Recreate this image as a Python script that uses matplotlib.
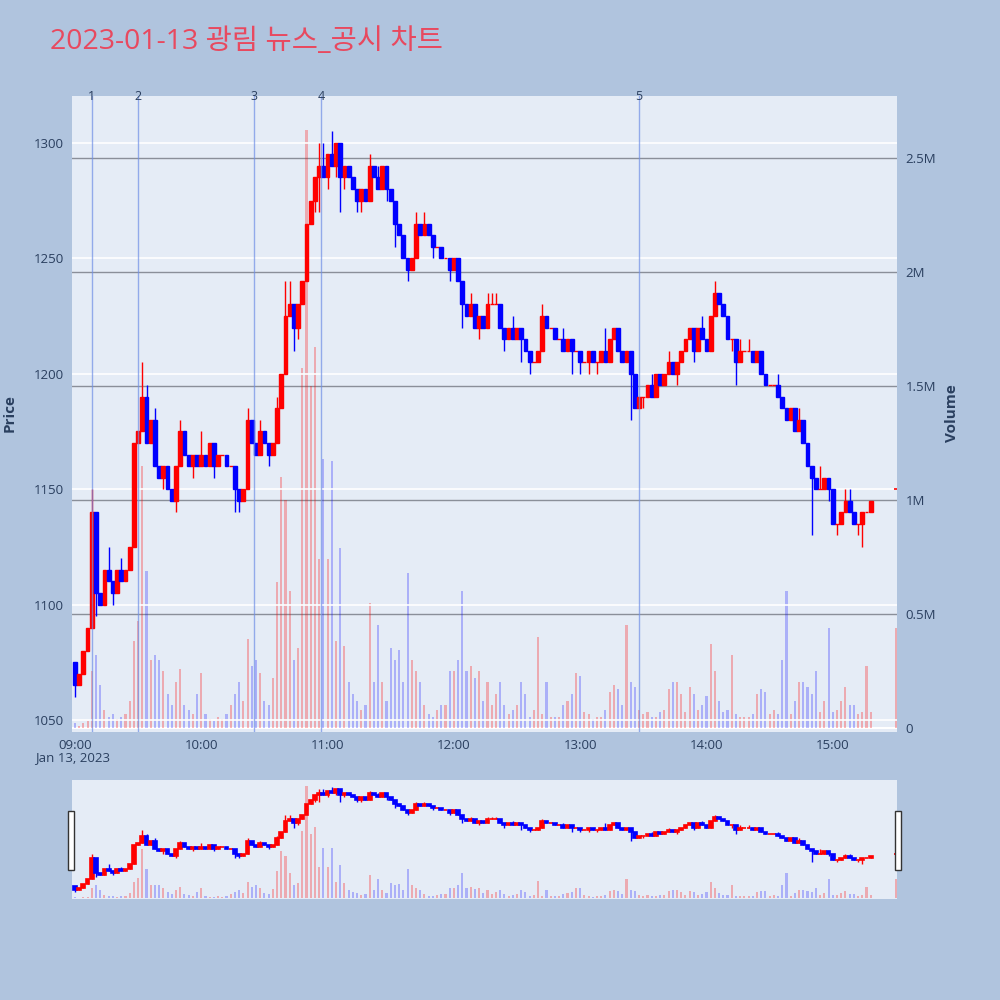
import numpy as np
import matplotlib.pyplot as plt
from matplotlib.patches import Rectangle

plt.rcParams['font.family'] = ['Open Sans', 'Noto Sans CJK KR', 'DejaVu Sans']

# 2분봉 종가 (09:00 ~ 15:18)
first_open = 1075
closes = [
    1065, 1070, 1080, 1090, 1140, 1105, 1100, 1115, 1110, 1105,
    1115, 1110, 1115, 1125, 1170, 1175, 1190, 1170, 1180, 1160,
    1155, 1160, 1150, 1145, 1160, 1175, 1165, 1160, 1165, 1160,
    1165, 1160, 1170, 1160, 1165, 1165, 1160, 1160, 1150, 1145,
    1150, 1180, 1170, 1165, 1175, 1170, 1165, 1170, 1185, 1200,
    1225, 1230, 1220, 1230, 1240, 1265, 1275, 1285, 1290, 1285,
    1295, 1290, 1300, 1285, 1290, 1285, 1280, 1275, 1280, 1275,
    1290, 1285, 1280, 1290, 1280, 1275, 1265, 1260, 1250, 1245,
    1250, 1265, 1260, 1265, 1260, 1255, 1255, 1250, 1250, 1245,
    1250, 1240, 1230, 1225, 1230, 1220, 1225, 1220, 1230, 1230,
    1230, 1220, 1215, 1220, 1215, 1220, 1215, 1210, 1205, 1205,
    1210, 1225, 1220, 1220, 1215, 1215, 1210, 1215, 1210, 1210,
    1205, 1205, 1210, 1205, 1205, 1210, 1205, 1215, 1220, 1210,
    1205, 1210, 1200, 1185, 1190, 1190, 1195, 1190, 1200, 1195,
    1200, 1205, 1200, 1205, 1210, 1215, 1220, 1210, 1220, 1215,
    1210, 1225, 1235, 1230, 1225, 1215, 1215, 1205, 1210, 1210,
    1210, 1205, 1210, 1200, 1195, 1195, 1195, 1190, 1185, 1180,
    1185, 1175, 1180, 1170, 1160, 1155, 1150, 1150, 1155, 1150,
    1135, 1135, 1140, 1145, 1140, 1135, 1135, 1140, 1140, 1145,
]
# 거래량 (백만주)
volumes = [
    0.02, 0.01, 0.02, 0.03, 0.25, 0.32, 0.19, 0.08, 0.05, 0.06,
    0.04, 0.05, 0.06, 0.12, 0.38, 0.47, 1.15, 0.69, 0.30, 0.32,
    0.30, 0.25, 0.15, 0.10, 0.20, 0.26, 0.10, 0.08, 0.06, 0.15,
    0.24, 0.06, 0.04, 0.03, 0.05, 0.04, 0.06, 0.10, 0.15, 0.20,
    0.12, 0.39, 0.27, 0.30, 0.24, 0.12, 0.10, 0.22, 0.64, 1.10,
    1.00, 0.60, 0.30, 0.35, 1.58, 2.62, 1.50, 1.67, 0.74, 1.18,
    0.74, 1.17, 0.38, 0.79, 0.36, 0.20, 0.15, 0.12, 0.08, 0.10,
    0.55, 0.20, 0.45, 0.20, 0.12, 0.35, 0.30, 0.34, 0.20, 0.68,
    0.30, 0.25, 0.20, 0.10, 0.06, 0.05, 0.08, 0.10, 0.10, 0.25,
    0.25, 0.30, 0.60, 0.25, 0.27, 0.22, 0.25, 0.12, 0.20, 0.10,
    0.15, 0.20, 0.10, 0.06, 0.08, 0.10, 0.20, 0.15, 0.05, 0.08,
    0.40, 0.06, 0.20, 0.05, 0.05, 0.05, 0.10, 0.12, 0.15, 0.24,
    0.23, 0.07, 0.06, 0.04, 0.05, 0.05, 0.08, 0.16, 0.19, 0.17,
    0.10, 0.45, 0.20, 0.18, 0.08, 0.06, 0.07, 0.05, 0.05, 0.07,
    0.08, 0.17, 0.20, 0.20, 0.15, 0.07, 0.18, 0.15, 0.08, 0.10,
    0.14, 0.37, 0.25, 0.12, 0.07, 0.08, 0.32, 0.06, 0.05, 0.05,
    0.05, 0.06, 0.15, 0.17, 0.16, 0.06, 0.08, 0.06, 0.30, 0.60,
    0.06, 0.12, 0.20, 0.20, 0.18, 0.15, 0.25, 0.07, 0.12, 0.44,
    0.07, 0.08, 0.12, 0.18, 0.10, 0.10, 0.06, 0.07, 0.27, 0.07,
]
wick_high = {0: 1075, 4: 1150, 8: 1125, 11: 1120, 16: 1205, 17: 1195, 19: 1185,
             25: 1180, 26: 1175, 30: 1175, 41: 1185, 44: 1180, 48: 1190,
             50: 1240, 51: 1240, 58: 1300, 59: 1300, 61: 1305, 70: 1295,
             72: 1290, 81: 1270, 83: 1270, 94: 1235, 98: 1235, 99: 1235,
             100: 1235, 104: 1225, 111: 1230, 116: 1220, 126: 1220, 137: 1200,
             141: 1210, 149: 1225, 152: 1240, 158: 1215, 160: 1215, 167: 1200,
             172: 1185, 177: 1160, 183: 1150, 184: 1150, 189: 1145}
wick_low = {0: 1060, 5: 1095, 9: 1100, 21: 1150, 24: 1140, 28: 1155, 33: 1155,
            38: 1140, 39: 1140, 46: 1160, 52: 1210, 53: 1215, 55: 1250,
            56: 1265, 57: 1270, 58: 1270, 60: 1280, 62: 1285, 63: 1270,
            64: 1280, 67: 1270, 68: 1270, 74: 1275, 76: 1255, 79: 1240,
            85: 1250, 89: 1240, 92: 1220, 96: 1215, 102: 1210, 106: 1205,
            108: 1200, 118: 1200, 120: 1200, 122: 1200, 124: 1200, 132: 1180,
            135: 1185, 143: 1195, 147: 1205, 156: 1210, 157: 1195, 175: 1130,
            179: 1145, 181: 1130, 186: 1130, 187: 1125}
close_auction_price = 1150
close_auction_vol = 0.44

event_min = [8, 30, 85, 117, 268]
event_labels = ['1', '2', '3', '4', '5']
price_ticks = [1050, 1100, 1150, 1200, 1250, 1300]
vol_ticks = [0, 0.5, 1, 1.5, 2, 2.5]
vol_tick_labels = ['0', '0.5M', '1M', '1.5M', '2M', '2.5M']
time_labels = ['09:00', '10:00', '11:00', '12:00', '13:00', '14:00', '15:00']

bar_min = 2
t = np.arange(len(closes)) * bar_min
opens = [first_open] + closes[:-1]
up = [c >= o for o, c in zip(opens, closes)]

RED, BLUE = '#FF0000', '#0000FF'
TXT = '#2a3f5f'
PLOT_BG = '#E5ECF6'
XLIM = (-1.4, 390.5)
PLIM = (1044.8, 1320.3)
VLIM = (-0.0175, 2.77)


def draw(axv, axp, body_lw, wick_lw):
    vcol = [(1, 0, 0, 0.28) if u else (0, 0, 1, 0.25) for u in up]
    axv.bar(t, volumes, width=1.0, color=vcol, zorder=2)
    axv.bar([390], [close_auction_vol], width=1.0, color=(1, 0, 0, 0.28), zorder=2)
    for i, (x, o, c) in enumerate(zip(t, opens, closes)):
        col = RED if up[i] else BLUE
        hi = wick_high.get(i, max(o, c))
        lo = wick_low.get(i, min(o, c))
        axp.vlines(x, lo, hi, color=col, lw=wick_lw, zorder=3)
        axp.add_patch(Rectangle((x - 0.9, min(o, c)), 1.8, abs(c - o),
                                facecolor=col, edgecolor=col, lw=body_lw, zorder=4))
    axp.hlines(close_auction_price, 389.2, 390.8, color=RED, lw=1.2, zorder=4)
    axp.set_xlim(*XLIM)
    axp.set_ylim(*PLIM)
    axv.set_ylim(*VLIM)


fig = plt.figure(figsize=(10, 10), dpi=100)
fig.patch.set_facecolor('#B0C4DE')

# 메인 차트
axv = fig.add_axes([0.072, 0.268, 0.825, 0.636])
axv.set_facecolor(PLOT_BG)
axp = axv.twinx()
axp.patch.set_visible(False)
draw(axv, axp, 1.0, 1.0)

for y in price_ticks:
    axp.axhline(y, color='white', lw=1.2, zorder=1)
for v in vol_ticks[1:]:
    axv.axhline(v, color='#8a8f99', lw=1, zorder=1)
axv.axhline(0, color='white', lw=1.5, zorder=1)

for m, lab in zip(event_min, event_labels):
    axp.axvline(m, color='#6f8fe6', lw=1, alpha=0.7, zorder=5)
    axp.text(m, 1.0, lab, transform=axp.get_xaxis_transform(), ha='center', va='center',
             fontsize=9, color=TXT, zorder=6)

axv.set_xticks([i * 60 for i in range(len(time_labels))])
axv.set_xticklabels(time_labels)
axv.yaxis.tick_right()
axv.set_yticks(vol_ticks)
axv.set_yticklabels(vol_tick_labels)
axp.yaxis.tick_left()
axp.set_yticks(price_ticks)
for a in (axv, axp):
    a.tick_params(length=0, labelsize=9.5, colors=TXT, pad=6)
    for s in a.spines.values():
        s.set_visible(False)
axv.tick_params(axis='x', pad=5)

fig.text(0.010, 0.587, 'Price', rotation=90, ha='center', va='center',
         fontsize=11, fontweight='bold', color=TXT)
fig.text(0.952, 0.587, 'Volume', rotation=90, ha='center', va='center',
         fontsize=11, fontweight='bold', color=TXT)
fig.text(0.073, 0.242, 'Jan 13, 2023', ha='center', va='center', fontsize=9.5, color=TXT)
fig.text(0.050, 0.958, '2023-01-13 광림 뉴스_공시 차트', ha='left', va='center',
         fontsize=20.5, color='#E8495F')

# 레인지 슬라이더
sv = fig.add_axes([0.072, 0.101, 0.825, 0.119])
sv.set_facecolor(PLOT_BG)
sp = sv.twinx()
sp.patch.set_visible(False)
draw(sv, sp, 1.2, 1.0)
for a in (sv, sp):
    a.set_xticks([])
    a.set_yticks([])
    for s in a.spines.values():
        s.set_visible(False)
for hx in (0.068, 0.895):
    fig.patches.append(Rectangle((hx, 0.130), 0.006, 0.059, transform=fig.transFigure,
                                 facecolor='white', edgecolor='#333333', lw=1))

fig.savefig('out.png', dpi=100, facecolor=fig.get_facecolor())
